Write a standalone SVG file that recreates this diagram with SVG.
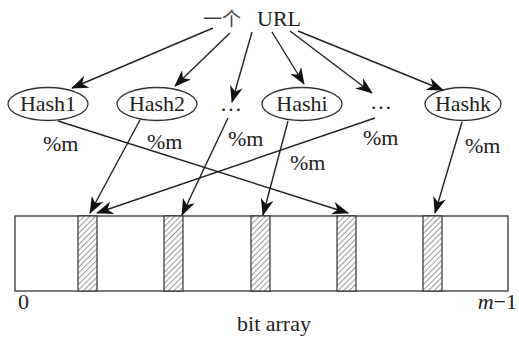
<svg xmlns="http://www.w3.org/2000/svg" width="519" height="345" viewBox="0 0 519 345">
<style>
.n{text-anchor:middle;}
.node ellipse{fill:#fff;stroke:#333;stroke-width:1.3;}
.conn line{stroke:#222;stroke-width:1.4;marker-end:url(#ah);}
.cell{fill:url(#hatch);stroke:#333;stroke-width:1.2;}
</style>
<defs>
<marker id="ah" markerWidth="17" markerHeight="13" refX="16" refY="6.5" orient="auto" markerUnits="userSpaceOnUse">
<path d="M0,0 L17,6.5 L0,13 L5,6.5 z" fill="#111"/>
</marker>
<pattern id="hatch" patternUnits="userSpaceOnUse" width="4" height="4" patternTransform="rotate(45)">
<rect width="4" height="4" fill="#fff"/>
<line x1="0" y1="0" x2="0" y2="4" stroke="#333" stroke-width="1"/>
</pattern>
</defs>
<g font-family="Liberation Serif, serif" font-size="22" fill="#222">
<g id="url"><text x="203" y="26"><tspan font-family="Noto Sans CJK SC, sans-serif" font-size="19" fill="#444">一个</tspan><tspan x="257">URL</tspan></text></g>
<g id="hash1" class="node"><ellipse cx="48" cy="104" rx="40" ry="16.5"/><text class="n" x="48" y="111">Hash1</text></g>
<g id="hash2" class="node"><ellipse cx="157" cy="104" rx="40" ry="16.5"/><text class="n" x="157" y="111">Hash2</text></g>
<g id="dots1" class="node"><text class="n" x="231" y="111">…</text></g>
<g id="hashi" class="node"><ellipse cx="302" cy="104" rx="40" ry="16.5"/><text class="n" x="302" y="111">Hashi</text></g>
<g id="dots2" class="node"><text class="n" x="381" y="109">…</text></g>
<g id="hashk" class="node"><ellipse cx="463" cy="104" rx="38" ry="16.5"/><text class="n" x="463" y="111">Hashk</text></g>
<g id="connectors" class="conn">
<line x1="213" y1="28" x2="72" y2="88"/>
<line x1="230" y1="33" x2="175" y2="86"/>
<line x1="252" y1="32" x2="232" y2="102"/>
<line x1="272" y1="32" x2="304" y2="84"/>
<line x1="290" y1="31" x2="372" y2="93"/>
<line x1="298" y1="31" x2="443" y2="90"/>
<line x1="58" y1="121" x2="348" y2="213"/>
<line x1="140" y1="120" x2="90" y2="213"/>
<line x1="228" y1="118" x2="182" y2="215"/>
<line x1="288" y1="121" x2="263" y2="215"/>
<line x1="375" y1="118" x2="97" y2="213"/>
<line x1="462" y1="122" x2="435" y2="213"/>
</g>
<g id="labels">
<text x="43" y="151">%m</text>
<text x="147" y="149">%m</text>
<text x="228" y="146">%m</text>
<text x="290" y="170">%m</text>
<text x="363" y="145">%m</text>
<text x="465" y="153">%m</text>
</g>
<g id="bitarray">
<rect x="15" y="216" width="493" height="75" fill="#fff" stroke="#333" stroke-width="1.3"/>
<rect class="cell" x="78" y="216" width="19" height="75"/>
<rect class="cell" x="164" y="216" width="19" height="75"/>
<rect class="cell" x="251" y="216" width="19" height="75"/>
<rect class="cell" x="337" y="216" width="19" height="75"/>
<rect class="cell" x="423" y="216" width="19" height="75"/>
<text x="18" y="309">0</text>
<text x="517" y="309" text-anchor="end"><tspan font-style="italic">m</tspan>−1</text>
<text class="n" x="274" y="331">bit array</text>
</g>
</g>
</svg>
